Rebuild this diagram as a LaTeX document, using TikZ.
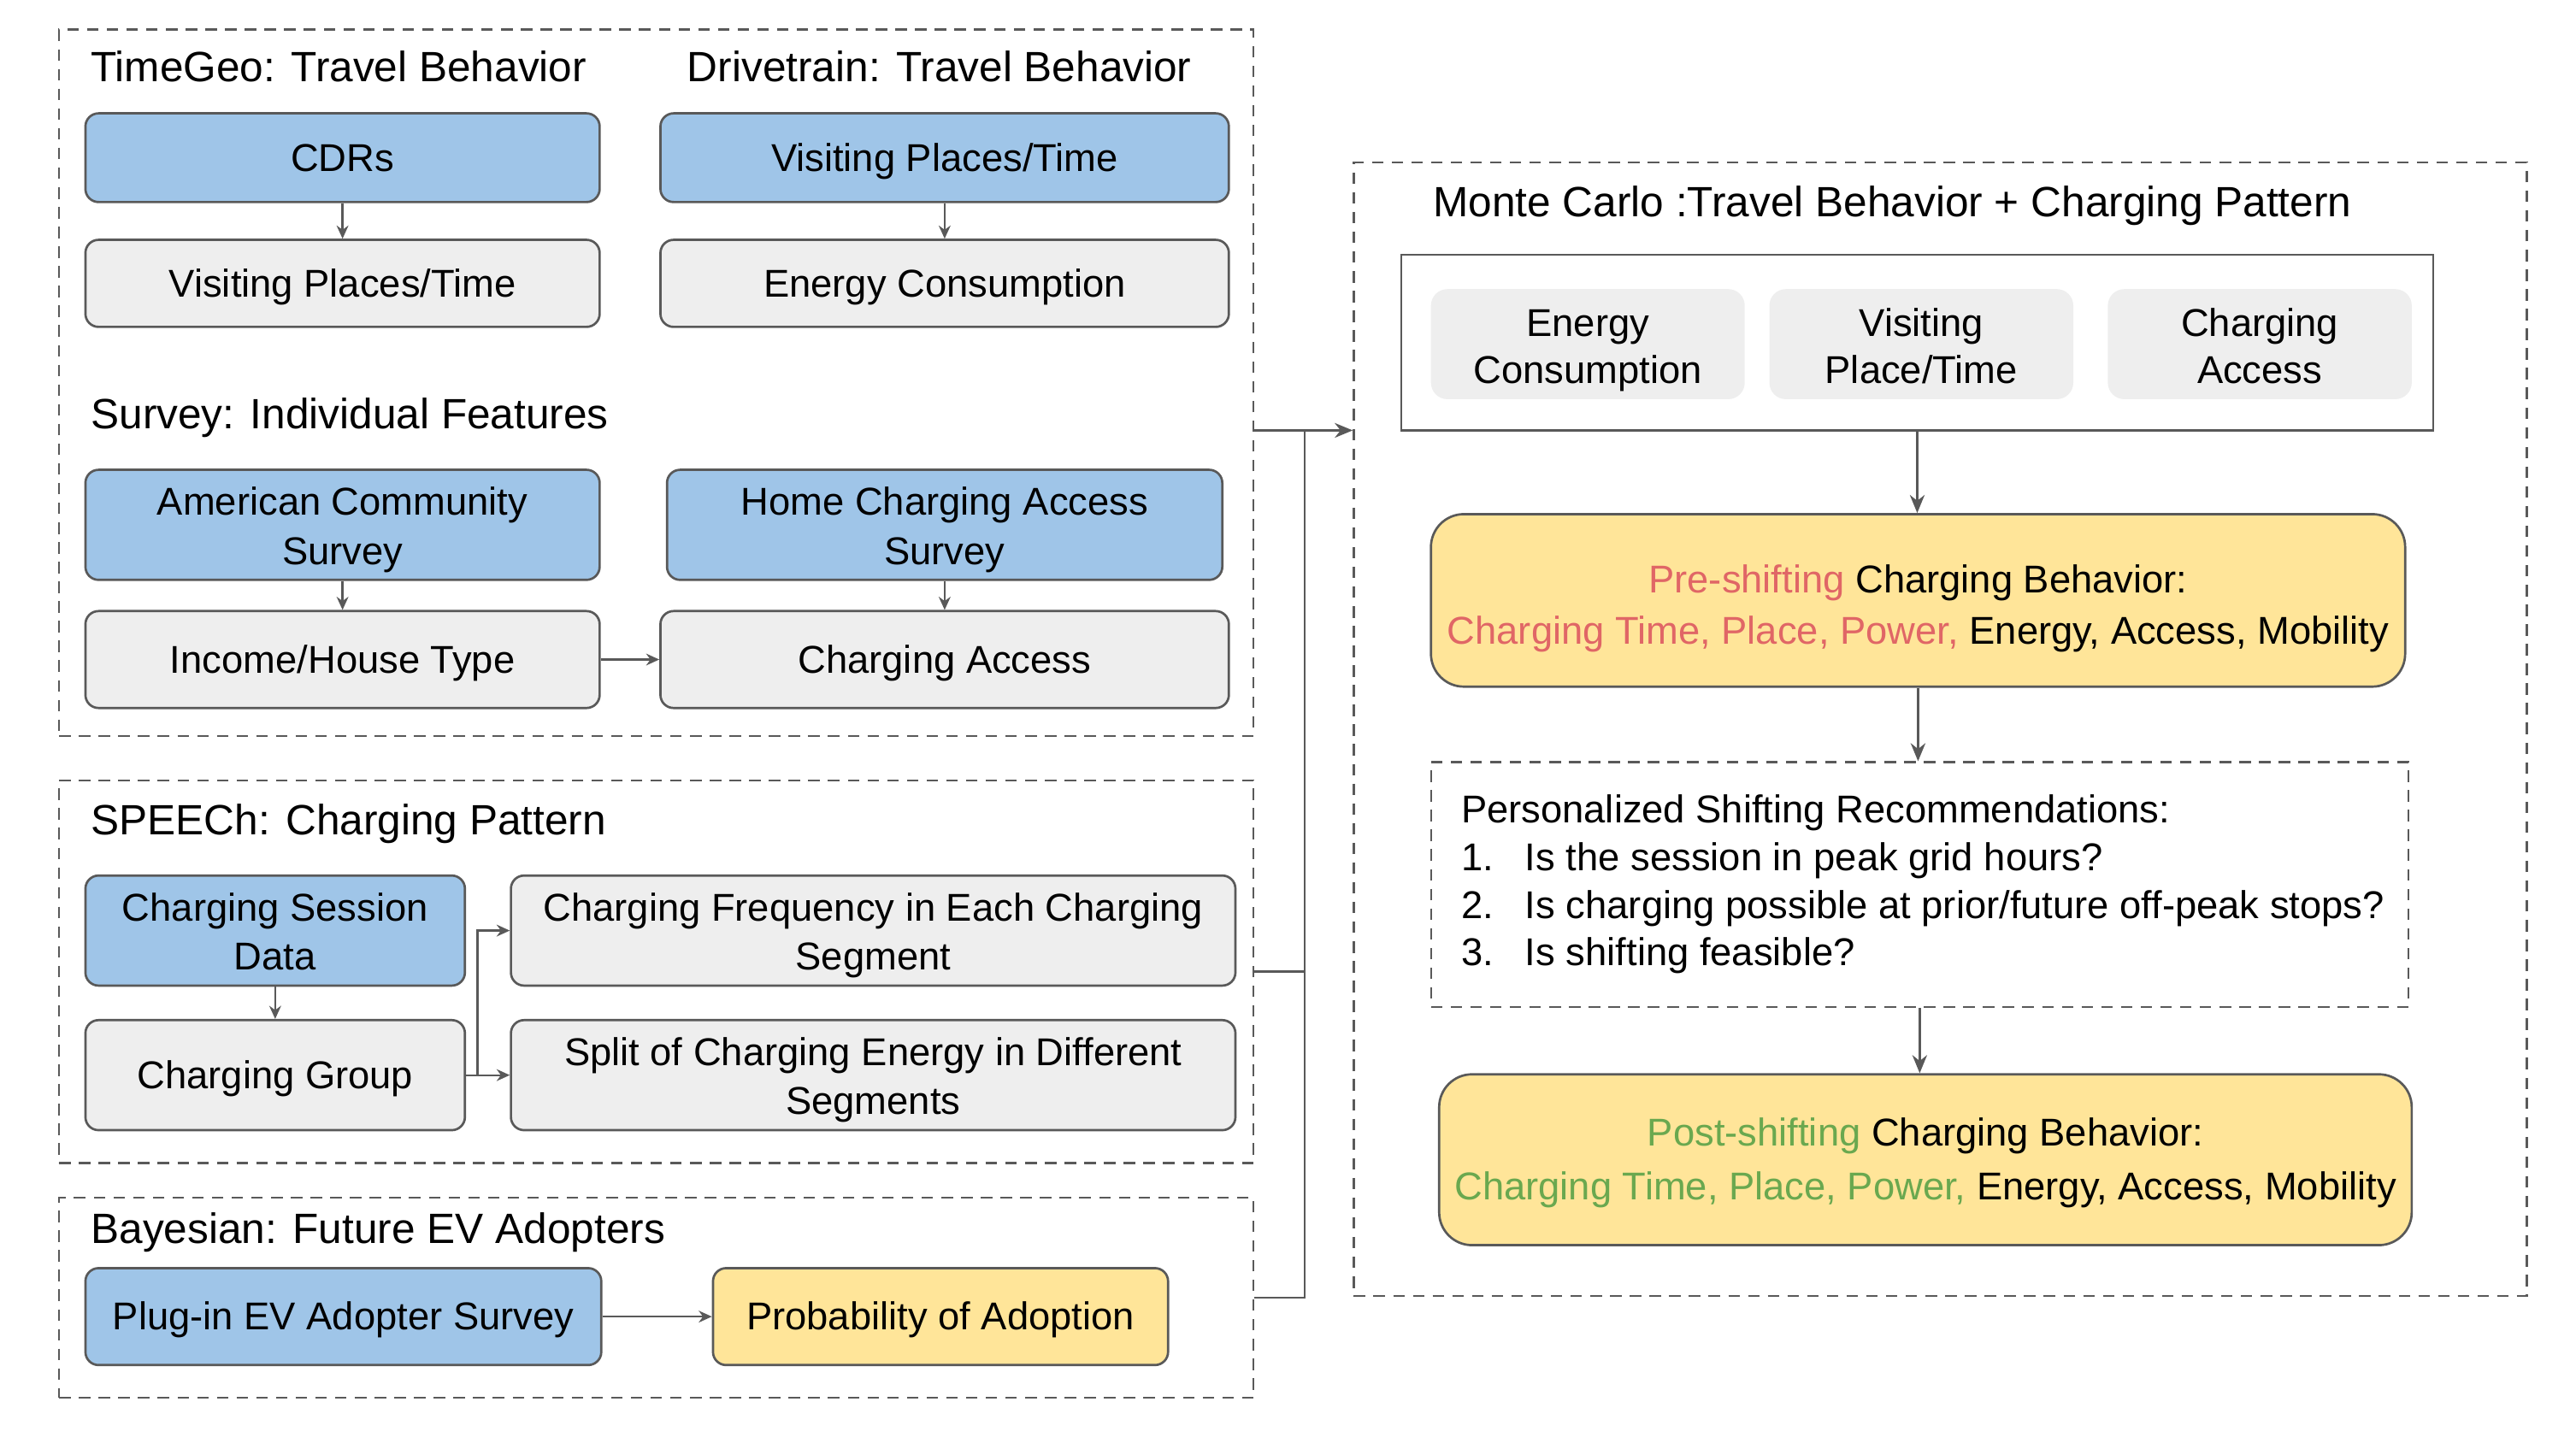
\documentclass[tikz,border=0pt]{standalone}
\usepackage{fontspec}
\setmainfont{Liberation Sans}
\usetikzlibrary{arrows.meta,calc}
\definecolor{bluef}{HTML}{9FC5E8}
\definecolor{grayf}{HTML}{EEEEEE}
\definecolor{yelf}{HTML}{FFE599}
\definecolor{edge}{HTML}{595959}
\definecolor{redt}{HTML}{E06666}
\definecolor{greent}{HTML}{6AA84F}
\newcommand\gstrut{\rule[-0.212em]{0pt}{1.117em}}
\newcommand\tp[1]{\rule{0pt}{#1}}
\begin{document}
\begin{tikzpicture}[x=0.5pt,y=-0.5pt,
 box/.style={draw=edge, line width=0.7pt, rounded corners=4pt, align=center, inner sep=2pt, font=\fontsize{11.8}{15}\selectfont,
   execute at begin node=\gstrut, execute at end node=\gstrut},
 bluebox/.style={box, fill=bluef},
 graybox/.style={box, fill=grayf},
 yelbox/.style={box, fill=yelf},
 frame/.style={draw=edge, line width=0.6pt, dash pattern=on 3.5pt off 2.5pt},
 ttl/.style={anchor=west, inner sep=0pt, font=\fontsize{12.9}{15}\selectfont, execute at begin node=\gstrut},
 arr/.style={draw=edge, line width=0.6pt, -{Stealth[length=4pt,width=3.6pt]}},
 bigarr/.style={draw=edge, line width=0.6pt, -{Stealth[length=5.5pt,width=4.5pt]}},
 ln/.style={draw=edge, line width=0.6pt}]
\useasboundingbox (0,0) rectangle (1568,878);

% frames
\node[frame, minimum width=363.5pt, minimum height=215pt] (f1) at (399.5,233) {};
\node[frame, minimum width=363.5pt, minimum height=116.5pt] (f2) at (399.5,591.5) {};
\node[frame, minimum width=363.5pt, minimum height=61pt] (f3) at (399.5,790) {};
\node[frame, minimum width=357pt, minimum height=345pt] (mc) at (1181,444) {};

% titles
\node[ttl] (t1) at (55,41) {TimeGeo: Travel Behavior};
\node[ttl] (t2) at (418,41) {Drivetrain: Travel Behavior};
\node[ttl] (t3) at (55,252) {Survey: Individual Features};
\node[ttl] (t4) at (55,499) {SPEECh: Charging Pattern};
\node[ttl] (t5) at (55,748) {Bayesian: Future EV Adopters};
\node[ttl] (t6) at (872,123) {Monte Carlo :Travel Behavior + Charging Pattern};

% TimeGeo / Drivetrain
\node[bluebox, minimum width=156.5pt, minimum height=27pt] (cdr) at (208.5,96) {CDRs};
\node[graybox, minimum width=156.5pt, minimum height=26.5pt] (vpt1) at (208.5,172.5) {Visiting Places/Time};
\node[bluebox, minimum width=173pt, minimum height=27pt] (vpt2) at (575,96) {Visiting Places/Time};
\node[graybox, minimum width=173pt, minimum height=26.5pt] (ec) at (575,172.5) {Energy Consumption};
% Survey
\node[bluebox, minimum width=156.5pt, minimum height=33.5pt] (acs) at (208.5,319.5) {\tp{11.6pt}American Community\\Survey};
\node[bluebox, minimum width=169pt, minimum height=33.5pt] (hcas) at (575,319.5) {\tp{11.6pt}Home Charging Access\\Survey};
\node[graybox, minimum width=156.5pt, minimum height=29.5pt] (iht) at (208.5,401.5) {Income/House Type};
\node[graybox, minimum width=173pt, minimum height=29.5pt] (ca) at (575,401.5) {Charging Access};
% SPEECh
\node[bluebox, minimum width=115.5pt, minimum height=33.5pt] (csd) at (167.5,566.5) {\tp{11.6pt}Charging Session\\Data};
\node[graybox, minimum width=115.5pt, minimum height=33.5pt] (cg) at (167.5,654.5) {Charging Group};
\node[graybox, minimum width=220.5pt, minimum height=33.5pt] (cf) at (531.5,566.5) {\tp{11.6pt}Charging Frequency in Each Charging\\Segment};
\node[graybox, minimum width=220.5pt, minimum height=33.5pt] (sce) at (531.5,654.5) {\tp{11.6pt}Split of Charging Energy in Different\\Segments};
% Bayesian
\node[bluebox, minimum width=157pt, minimum height=29.5pt] (pev) at (209,801.5) {Plug-in EV Adopter Survey};
\node[yelbox, minimum width=138.5pt, minimum height=29.5pt] (pa) at (572.5,801.5) {Probability of Adoption};

% Monte Carlo
\node[draw=edge, line width=0.7pt, minimum width=314pt, minimum height=53.5pt] (mcr) at (1167,208.5) {};
\node[graybox, draw=none, rounded corners=5pt, minimum width=95.5pt, minimum height=33.5pt, font=\fontsize{11.8}{14.5}\selectfont] (ec2) at (966.5,209.5) {\tp{12.1pt}Energy\\Consumption};
\node[graybox, draw=none, rounded corners=5pt, minimum width=92.5pt, minimum height=33.5pt, font=\fontsize{11.8}{14.5}\selectfont] (vpt3) at (1169.5,209.5) {\tp{12.1pt}Visiting\\Place/Time};
\node[graybox, draw=none, rounded corners=5pt, minimum width=92.5pt, minimum height=33.5pt, font=\fontsize{11.8}{14.5}\selectfont] (ca2) at (1375.5,209.5) {\tp{12.1pt}Charging\\Access};
\node[yelbox, rounded corners=10pt, minimum width=296.5pt, minimum height=52.5pt, font=\fontsize{11.8}{15.5}\selectfont] (pre) at (1167.5,365.5)
 {\tp{13.6pt}\textcolor{redt}{Pre-shifting} Charging Behavior:\\\textcolor{redt}{Charging Time, Place, Power,} Energy, Access, Mobility};
\node[frame, minimum width=297.5pt, minimum height=74.5pt] (psr) at (1168.5,538.5) {};
\node[anchor=west, inner sep=0pt, align=left, font=\fontsize{11.8}{14.5}\selectfont,
   execute at begin node=\gstrut, execute at end node=\gstrut] (psrtx) at (889,538.5)
 {Personalized Shifting Recommendations:\\
  \makebox[19.5pt][l]{1.}Is the session in peak grid hours?\\
  \makebox[19.5pt][l]{2.}Is charging possible at prior/future off-peak stops?\\
  \makebox[19.5pt][l]{3.}Is shifting feasible?};
\node[yelbox, rounded corners=10pt, minimum width=296pt, minimum height=52pt, font=\fontsize{11.8}{16.5}\selectfont] (post) at (1172,706)
 {\tp{10.6pt}\textcolor{greent}{Post-shifting} Charging Behavior:\\\textcolor{greent}{Charging Time, Place, Power,} Energy, Access, Mobility};

% connectors
\draw[arr] (cdr) -- (vpt1);
\draw[arr] (vpt2) -- (ec);
\draw[arr] (acs) -- (iht);
\draw[arr] (hcas) -- (ca);
\draw[arr] (iht) -- (ca);
\draw[arr] (csd) -- (cg);
\draw[arr] (cg) -- (sce);
\draw[arr] (cg.east) -- ++(7,0) |- (cf.west);
\draw[arr] (pev) -- (pa);

\coordinate (jn) at (794,262);
\draw[bigarr] (f1.east |- jn) -- (mc.west |- jn);
\draw[ln] (f2.east) -- (jn |- f2.east);
\draw[ln] (f3.east) -- (jn |- f3.east) -- (jn);

\draw[bigarr] (mcr.south) -- (mcr.south |- pre.north);
\draw[bigarr] (pre.south) -- (pre.south |- psr.north);
\draw[bigarr] (psr.south) -- (psr.south |- post.north);
\end{tikzpicture}
\end{document}
